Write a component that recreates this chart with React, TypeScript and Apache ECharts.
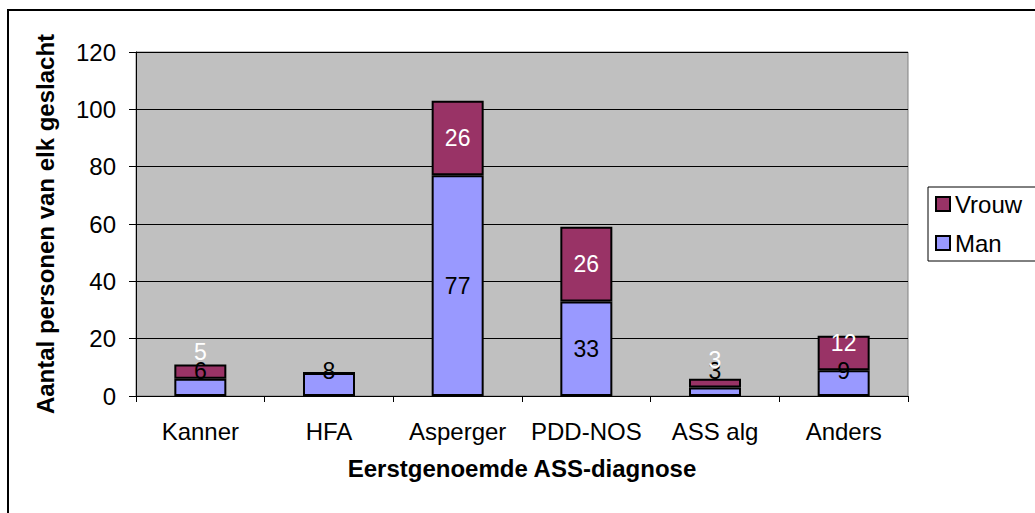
import React, { useEffect, useRef } from "react";
import * as echarts from "echarts";

const categories = ["Kanner", "HFA", "Asperger", "PDD-NOS", "ASS alg", "Anders"];
const manValues = [6, 8, 77, 33, 3, 9];
const vrouwValues = [5, 0, 26, 26, 3, 12];
const yMin = 0;
const yMax = 120;
const yInterval = 20;

const FONT = "'Liberation Sans', Arial, sans-serif";
const PLOT_TOP = 52;
const PLOT_BOTTOM = 396;
const pxPerUnit = (PLOT_BOTTOM - PLOT_TOP) / (yMax - yMin);
// Excel nudges labels of short segments upward
const vrouwLabelLift = [20, 0, 0, 0, 23, 10];

export default function App() {
  const ref = useRef<HTMLDivElement>(null);
  useEffect(() => {
    if (!ref.current) return;
    const chart = echarts.init(ref.current, undefined, { renderer: "svg" });
    const manData = manValues.map((v) => ({
      value: v,
      label: { offset: [0, -Math.max(0, 25 - (v * pxPerUnit) / 2)] },
    }));
    const vrouwData = vrouwValues.map((v, i) => ({
      value: v,
      label: { offset: [0, -vrouwLabelLift[i]] },
    }));
    chart.setOption({
      animation: false,
      backgroundColor: "#ffffff",
      textStyle: { fontFamily: FONT },
      graphic: [
        {
          type: "rect",
          shape: { x: 8, y: 10, width: 1100, height: 600 },
          style: { fill: "none", stroke: "#000", lineWidth: 2 },
          z: 100,
        },
      ],
      grid: {
        left: 136,
        right: 1035 - 908,
        top: PLOT_TOP,
        bottom: 513 - PLOT_BOTTOM,
        show: true,
        backgroundColor: "#c0c0c0",
        borderColor: "#808080",
        borderWidth: 1,
      },
      legend: {
        data: ["Vrouw", "Man"],
        orient: "vertical",
        left: 928,
        top: 187,
        icon: "rect",
        itemWidth: 14,
        itemHeight: 14,
        itemGap: 15,
        padding: [5, 60, 6, 7],
        borderColor: "#000",
        borderWidth: 1,
        backgroundColor: "#fff",
        textStyle: { fontSize: 24, color: "#000", fontFamily: FONT },
      },
      xAxis: {
        type: "category",
        data: categories,
        name: "Eerstgenoemde ASS-diagnose",
        nameLocation: "middle",
        nameGap: 60,
        nameTextStyle: { fontSize: 24, fontWeight: "bold", color: "#000", fontFamily: FONT },
        axisLine: { lineStyle: { color: "#000", width: 1 } },
        axisTick: { show: true, length: 6, alignWithLabel: false, lineStyle: { color: "#000" } },
        axisLabel: { fontSize: 24, color: "#000", margin: 23, fontFamily: FONT, interval: 0 },
      },
      yAxis: {
        type: "value",
        min: yMin,
        max: yMax,
        interval: yInterval,
        name: "Aantal personen van elk geslacht",
        nameLocation: "middle",
        nameGap: 79,
        nameTextStyle: { fontSize: 24, fontWeight: "bold", color: "#000", fontFamily: FONT },
        axisLine: { show: true, lineStyle: { color: "#000", width: 1 } },
        axisTick: { show: true, length: 7, lineStyle: { color: "#000" } },
        axisLabel: { fontSize: 24, color: "#000", margin: 20, fontFamily: FONT },
        splitLine: { show: true, lineStyle: { color: "#000", width: 1 } },
      },
      series: [
        {
          name: "Man",
          type: "bar",
          stack: "total",
          barWidth: 52,
          data: manData,
          itemStyle: { color: "#9999ff", borderColor: "#000", borderWidth: 2 },
          label: {
            show: true,
            position: "inside",
            color: "#000",
            fontSize: 23,
            fontFamily: FONT,
            formatter: (p: any) => (p.value ? String(p.value) : ""),
          },
        },
        {
          name: "Vrouw",
          type: "bar",
          stack: "total",
          barWidth: 52,
          data: vrouwData,
          itemStyle: { color: "#993366", borderColor: "#000", borderWidth: 2 },
          label: {
            show: true,
            position: "inside",
            color: "#fff",
            fontSize: 23,
            fontFamily: FONT,
            formatter: (p: any) => (p.value ? String(p.value) : ""),
          },
        },
      ],
    });
    return () => chart.dispose();
  }, []);
  return (
    <div
      ref={ref}
      style={{ position: "absolute", left: 0, top: 0, width: 1035, height: 513 }}
    />
  );
}
